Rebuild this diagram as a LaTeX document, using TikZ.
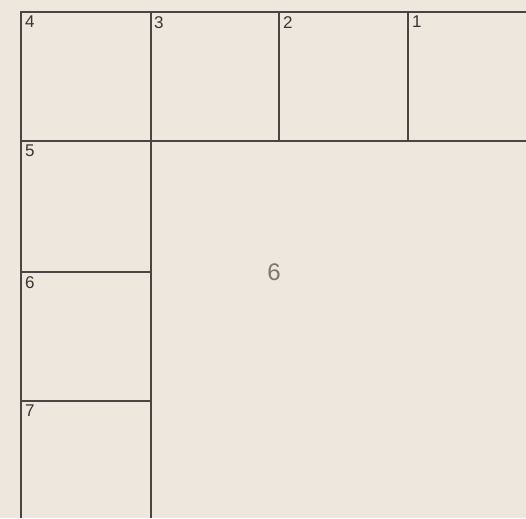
\documentclass[tikz,border=0pt]{standalone}
\usepackage{fontspec}
\setmainfont{Liberation Sans}
\definecolor{bg}{HTML}{EDE7DD}
\definecolor{ln}{HTML}{4A4542}
\definecolor{txt}{HTML}{3A3532}
\definecolor{big}{HTML}{7A7670}
\begin{document}
\begin{tikzpicture}[x=1pt,y=-1pt,
  grid/.style={draw=ln,line width=1.3pt},
  lab/.style={anchor=north west,inner sep=0pt,text=txt,font=\fontsize{17}{17}\selectfont},
  biglab/.style={inner sep=0pt,text=big,font=\fontsize{24}{24}\selectfont}]
\fill[bg] (0,0) rectangle (526,518);
\useasboundingbox (0,0) rectangle (526,518);
\coordinate (tl) at (21,12);
\coordinate (tr) at (526,12);
\coordinate (bl) at (21,518);
\coordinate (m1t) at (151,12);
\coordinate (m1b) at (151,518);
\coordinate (h1l) at (21,141);
\coordinate (h1r) at (526,141);
\coordinate (v2t) at (279,12);
\coordinate (v2b) at (279,141);
\coordinate (v3t) at (408,12);
\coordinate (v3b) at (408,141);
\coordinate (h2l) at (21,272);
\coordinate (h2r) at (151,272);
\coordinate (h3l) at (21,401);
\coordinate (h3r) at (151,401);
\draw[grid] (tr) -- (tl) -- (bl);
\draw[grid] (m1t) -- (m1b);
\draw[grid] (h1l) -- (h1r);
\draw[grid] (v2t) -- (v2b);
\draw[grid] (v3t) -- (v3b);
\draw[grid] (h2l) -- (h2r);
\draw[grid] (h3l) -- (h3r);
\node[lab] (l4) at (25,16) {4};
\node[lab] (l3) at (154,16) {3};
\node[lab] (l2) at (283,16) {2};
\node[lab] (l1) at (412,16) {1};
\node[lab] (l5) at (25,145) {5};
\node[lab] (l6) at (25,276) {6};
\node[lab] (l7) at (25,405) {7};
\node[biglab] (c6) at (274,272) {6};
\end{tikzpicture}
\end{document}
